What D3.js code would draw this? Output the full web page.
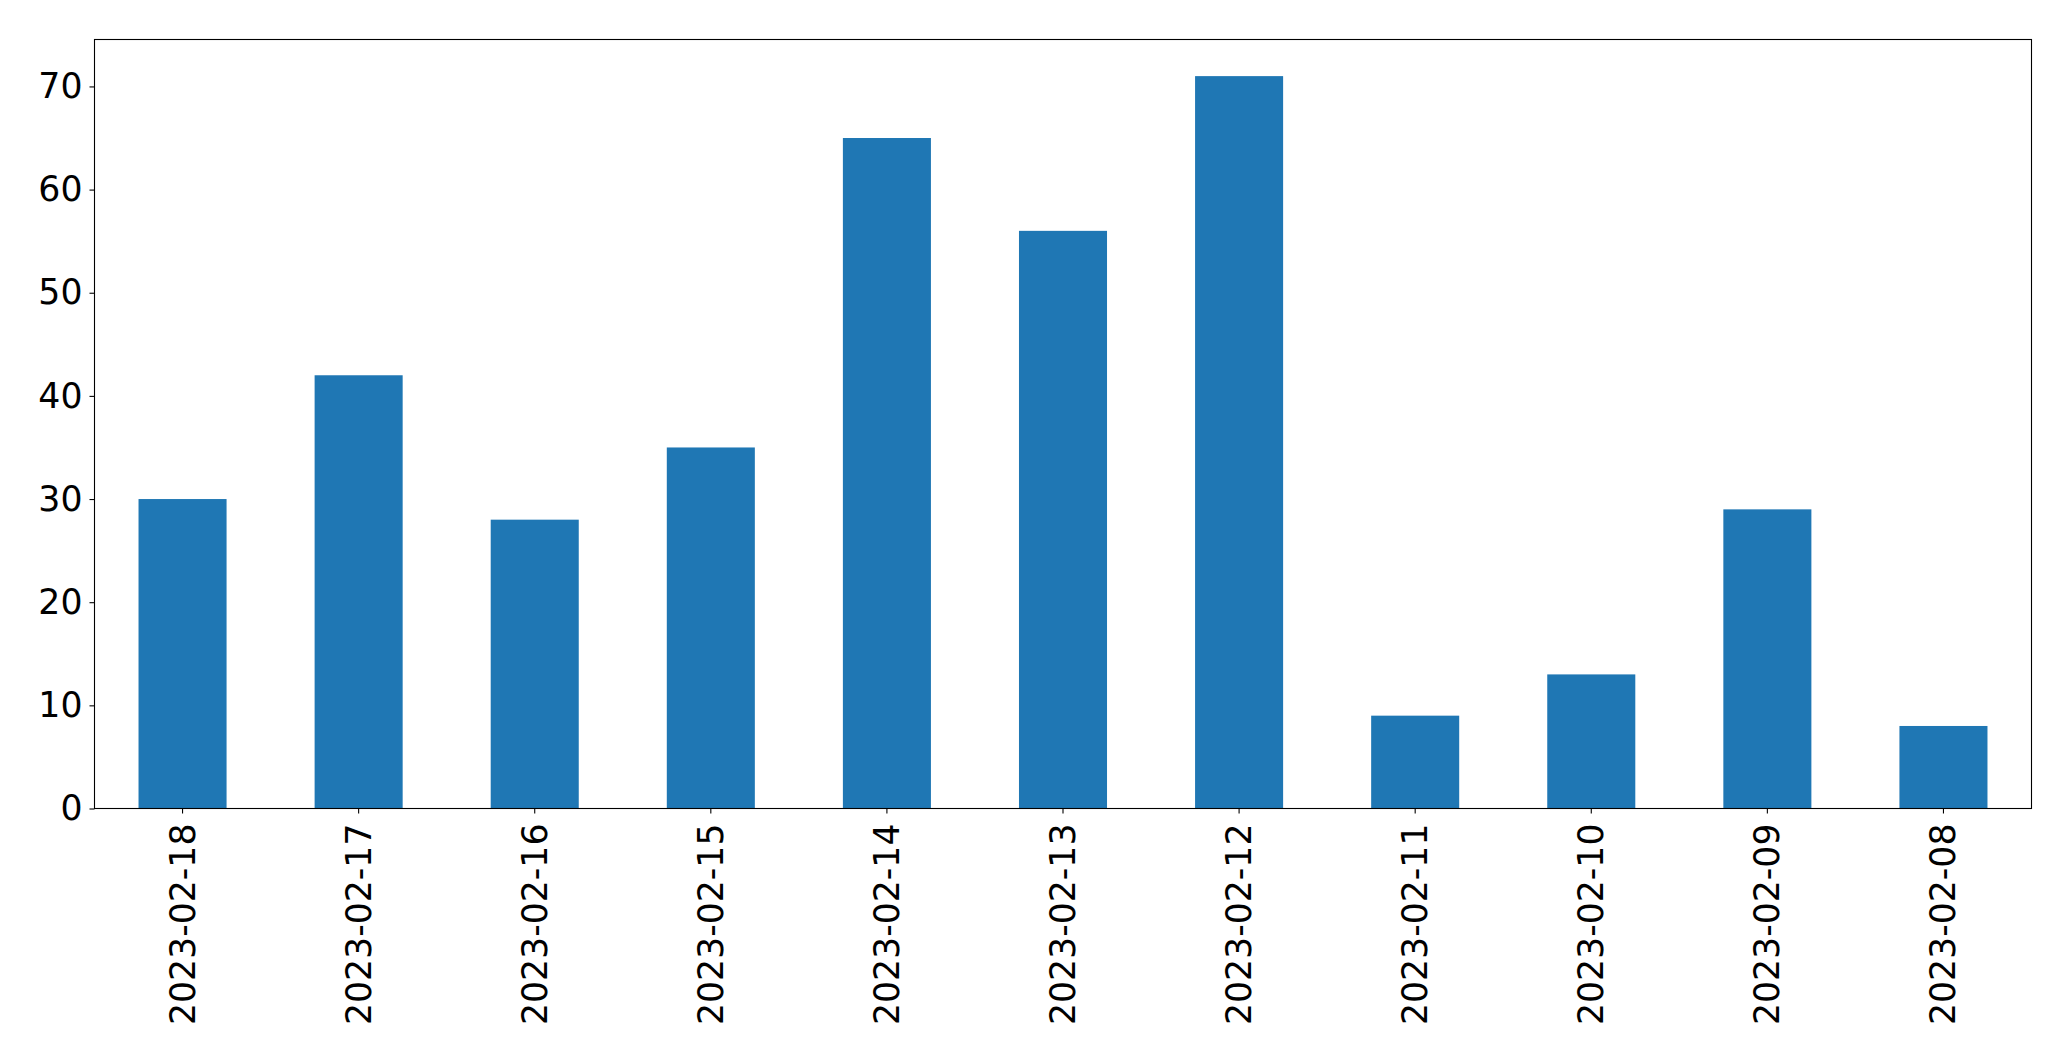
<!DOCTYPE html>
<html>
<head>
<meta charset="utf-8">
<script src="https://cdn.jsdelivr.net/npm/d3@7"></script>
<style>
  html, body { margin: 0; padding: 0; background: #fff; }
  svg { display: block; }
  text { font-family: "DejaVu Sans", sans-serif; fill: #000; }
</style>
</head>
<body>
<svg id="chart" width="2071" height="1061"></svg>
<script>
const categories = ["2023-02-18","2023-02-17","2023-02-16","2023-02-15","2023-02-14","2023-02-13","2023-02-12","2023-02-11","2023-02-10","2023-02-09","2023-02-08"];
const values = [30, 42, 28, 35, 65, 56, 71, 9, 13, 29, 8];
const yTicks = [0, 10, 20, 30, 40, 50, 60, 70];

(function () {
const svg = d3.select("#chart");
const pLeft = 94.5, pRight = 2031.5, pTop = 39.5, pBottom = 808.5;

const x = d3.scaleBand().domain(categories).range([pLeft, pRight]).paddingInner(0.5).paddingOuter(0.25);
const y = d3.scaleLinear().domain([0, d3.max(values) * 1.05]).range([pBottom, pTop]);

svg.append("g").selectAll("rect").data(values).join("rect")
  .attr("x", (d, i) => x(categories[i]))
  .attr("width", x.bandwidth())
  .attr("y", d => y(d))
  .attr("height", d => y(0) - y(d))
  .attr("fill", "#1f77b4");

const fs = 34.7;
const yAxis = svg.append("g").attr("transform", `translate(${pLeft},0)`)
  .call(d3.axisLeft(y).tickValues(yTicks).tickSize(5).tickPadding(7).tickFormat(d3.format("d")));
yAxis.select(".domain").remove();
yAxis.selectAll("line").attr("stroke", "#000").attr("stroke-width", 1.1);
yAxis.selectAll("text").style("font-size", fs + "px").attr("fill", "#000");

const xAxis = svg.append("g").attr("transform", `translate(0,${pBottom})`)
  .call(d3.axisBottom(x).tickSize(5).tickPadding(0));
xAxis.select(".domain").remove();
xAxis.selectAll("line").attr("stroke", "#000").attr("stroke-width", 1.1);
xAxis.selectAll("text")
  .style("font-size", fs + "px").attr("fill", "#000")
  .attr("text-anchor", "end")
  .attr("dy", null)
  .attr("dominant-baseline", "central")
  .attr("transform", "translate(0,15) rotate(-90)")
  .attr("y", 0).attr("x", 0);

svg.append("rect").attr("x", pLeft).attr("y", pTop).attr("width", pRight - pLeft).attr("height", pBottom - pTop)
  .attr("fill", "none").attr("stroke", "#000").attr("stroke-width", 1.1);
})();
</script>
</body>
</html>
